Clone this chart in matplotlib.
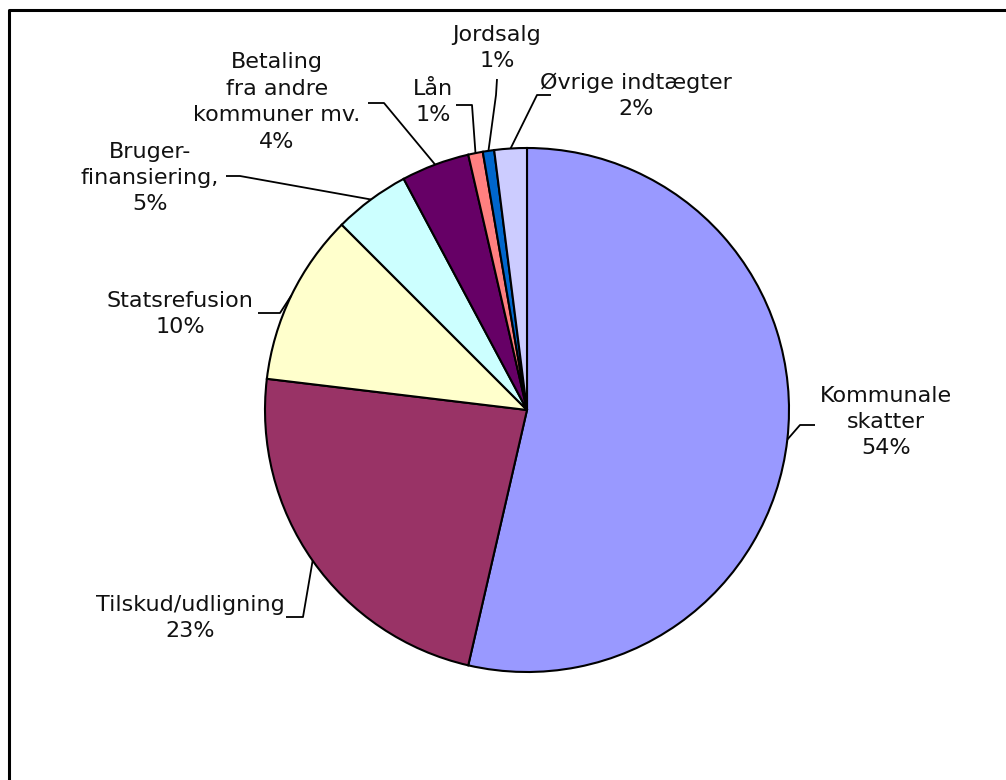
import numpy as np
import matplotlib.pyplot as plt

# Kommunernes indtægter, andele i procent
labels = ["Kommunale\nskatter", "Tilskud/udligning", "Statsrefusion",
          "Bruger-\nfinansiering,", "Betaling\nfra andre\nkommuner mv.",
          "Lån", "Jordsalg", "Øvrige indtægter"]
values = [53.6, 23.3, 10.6, 4.7, 4.2, 0.9, 0.7, 2.0]
pct_labels = [54, 23, 10, 5, 4, 1, 1, 2]
colors = ["#9999FF", "#993366", "#FFFFCC", "#CCFFFF", "#660066",
          "#FF8080", "#0066CC", "#CCCCFF"]

# label layout in pixel coords (y from top): elbow, line end, text centre
elbows = [(800, 425), (303, 617), (280, 313), (240, 176), (384, 103),
          (472, 105), (496, 95), (537, 95)]
ends = [(815, 425), (286, 617), (258, 313), (226, 176), (368, 103),
        (456, 105), (497, 79), (551, 95)]
text_pos = [(886, 422), (190, 618), (180, 314), (150, 178), (277, 102),
            (433, 102), (497, 48), (636, 96)]

W, H = 1006, 780
fig = plt.figure(figsize=(W / 100, H / 100), dpi=100)
ax = fig.add_axes([0, 0, 1, 1])

cx, cy, r = 527, H - 410, 262
wedges, _ = ax.pie(values, colors=colors, startangle=90, counterclock=False,
                   center=(cx, cy), radius=r, frame=True,
                   wedgeprops=dict(edgecolor="black", linewidth=1.5))
ax.set_xlim(0, W)
ax.set_ylim(0, H)
ax.set_aspect("equal")
ax.axis("off")

for w, lab, p, el, en, tp in zip(wedges, labels, pct_labels, elbows, ends, text_pos):
    ang = np.deg2rad((w.theta1 + w.theta2) / 2)
    x0 = cx + r * np.cos(ang)
    y0 = cy + r * np.sin(ang)
    ax.plot([x0, el[0], en[0]], [y0, H - el[1], H - en[1]],
            color="black", lw=1.3, solid_capstyle="butt")
    ax.text(tp[0], H - tp[1], f"{lab}\n{p}%", ha="center", va="center",
            fontsize=16, family="DejaVu Sans", color="#111111",
            linespacing=1.4)

# chart frame (runs off right and bottom edges)
ax.plot([9, 9, W + 5], [-5, H - 10, H - 10], color="black", lw=2.2,
        clip_on=False)

fig.savefig("out.png", dpi=100)
